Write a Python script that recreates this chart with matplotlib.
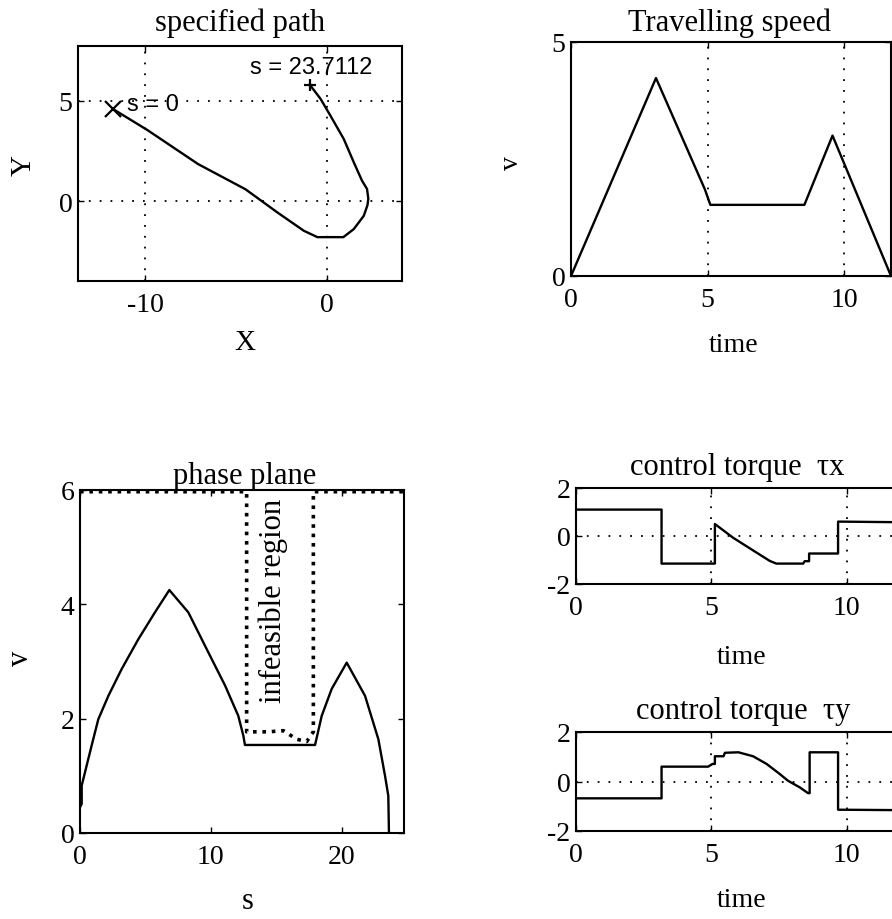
import matplotlib
matplotlib.use('Agg')
import matplotlib.pyplot as plt

# --- data ---
path_x = [-11.8, -9.9, -7.1, -4.5, -2.75, -1.3, -0.55, 0.88, 1.45, 2.0, 2.2,
          2.25, 2.18, 1.9, 1.45, 0.9, 0.16, -0.38, -0.97]
path_y = [4.6, 3.55, 1.85, 0.6, -0.55, -1.46, -1.78, -1.78, -1.38, -0.72, -0.2,
          0.12, 0.61, 1.03, 1.94, 3.1, 4.27, 5.1, 5.8]

speed_t = [0, 3.11, 4.9, 5.1, 8.54, 9.57, 11.71]
speed_v = [0, 4.23, 1.85, 1.52, 1.52, 3.0, 0]

phase_s = [0, 0.13, 0.13, 0.51, 0.89, 1.4, 2.17, 3.19, 4.46, 5.73, 6.83, 8.28,
           9.81, 11.09, 12.1, 12.49, 12.61, 17.97, 18.48, 19.24, 20.39, 21.79,
           22.81, 23.32, 23.57, 23.62]
phase_v = [0.45, 0.51, 0.83, 1.18, 1.53, 1.99, 2.4, 2.87, 3.39, 3.86, 4.25, 3.86,
           3.16, 2.58, 2.05, 1.7, 1.54, 1.54, 2.05, 2.52, 2.98, 2.4,
           1.64, 1.0, 0.65, 0]

limit_s = [0, 12.74, 12.74, 14.4, 15.55, 16.56, 17.33, 17.84, 17.84, 24.77]
limit_v = [5.97, 5.97, 1.77, 1.77, 1.79, 1.64, 1.6, 1.77, 5.97, 5.97]

tx_t = [0, 3.16, 3.16, 5.13, 5.13, 5.8, 6.54, 7.16, 7.4, 8.39, 8.45, 8.61,
        8.61, 9.68, 9.68, 12.3]
tx_v = [1.1, 1.1, -1.15, -1.15, 0.5, -0.07, -0.6, -1.04, -1.15, -1.15, -1.05,
        -1.05, -0.73, -0.73, 0.6, 0.57]

ty_t = [0, 3.16, 3.16, 4.88, 5.04, 5.13, 5.13, 5.45, 5.5, 6.0, 6.54, 7.04,
        7.53, 7.83, 8.27, 8.57, 8.63, 8.63, 9.68, 9.68, 12.3]
ty_v = [-0.68, -0.68, 0.6, 0.6, 0.71, 0.71, 1.02, 1.02, 1.16, 1.18, 1.02, 0.71,
        0.3, 0.03, -0.24, -0.47, -0.47, 1.18, 1.18, -1.14, -1.16]

W, H = 892, 920
plt.rcParams['font.family'] = ['Liberation Serif', 'DejaVu Serif']
plt.rcParams['axes.linewidth'] = 1.5
plt.rcParams['axes.unicode_minus'] = False

fig = plt.figure(figsize=(W / 100, H / 100), dpi=100)


def make_axes(l, t, r, b):
    ax = fig.add_axes([l / W, 1 - b / H, (r - l) / W, (b - t) / H])
    ax.box_px = (l, t, r, b)
    ax.tick_params(direction='in', length=4.5, width=1, labelsize=20,
                   top=True, right=True)
    ax.tick_params(axis='x', pad=8)
    ax.tick_params(axis='y', pad=4)
    return ax


def frac(ax, x, y):
    l, t, r, b = ax.box_px
    return (x - l) / (r - l), (b - y) / (b - t)


def labels(ax, title, tpos, xlabel, xpos, ylabel, ypos, tsize=22, lsize=21):
    fx, fy = frac(ax, *tpos)
    ax.set_title(title, x=fx, y=fy, va='center', pad=0, fontsize=tsize)
    ax.set_xlabel(xlabel, fontsize=lsize)
    ax.xaxis.set_label_coords(*frac(ax, *xpos))
    ax.xaxis.label.set_va('center')
    ax.set_ylabel(ylabel, fontsize=lsize)
    ax.yaxis.set_label_coords(*frac(ax, *ypos))
    ax.yaxis.label.set_va('center')


grid_style = dict(color='k', linestyle=(0, (1, 5)), linewidth=1.3)

# specified path
ax1 = make_axes(78, 47, 402, 282)
ax1.plot(path_x, path_y, color='k', lw=1.7)
ax1.plot(path_x[0], path_y[0], 'kx', ms=11, mew=1.6)
ax1.plot(path_x[-1], path_y[-1], 'k+', ms=9, mew=1.6)
ax1.text(-11.0, 4.84, 's = 0', family='Liberation Sans', fontsize=17, va='center')
ax1.text(-4.23, 6.68, 's = 23.7112', family='Liberation Sans', fontsize=17, va='center')
ax1.set_xlim(-13.7, 4.1)
ax1.set_ylim(-3.96, 7.72)
ax1.set_xticks([-10, 0])
ax1.set_yticks([0, 5])
ax1.grid(True, **grid_style)
labels(ax1, 'specified path', (240, 23), 'X', (245, 343), 'Y', (24, 165))

# travelling speed
ax2 = make_axes(571, 43, 891, 277)
ax2.plot(speed_t, speed_v, color='k', lw=1.7)
ax2.set_xlim(0, 11.71)
ax2.set_ylim(0, 5)
ax2.set_xticks([0, 5, 10])
ax2.set_yticks([0, 5])
ax2.grid(True, **grid_style)
labels(ax2, 'Travelling speed', (729, 23), 'time', (734, 345), 'v', (512, 163),
       lsize=20)

# phase plane
ax3 = make_axes(80, 491, 404, 834)
ax3.plot(phase_s, phase_v, color='k', lw=1.7)
ax3.plot(limit_s, limit_v, color='k', lw=2.6, linestyle=(0, (1, 1.6)))
ax3.text(14.8, 4.07, 'infeasible region', rotation=90, ha='center', va='center',
         fontsize=22)
ax3.set_xlim(0, 24.77)
ax3.set_ylim(0, 6)
ax3.set_xticks([0, 10, 20])
ax3.set_yticks([0, 2, 4, 6])
labels(ax3, 'phase plane', (245, 477), 's', (248, 902), 'v', (21, 658),
       lsize=22)

# control torques
ax4 = make_axes(576, 489, 909, 585)
ax4.plot(tx_t, tx_v, color='k', lw=1.7)
ax4.set_xlim(0, 12.3)
ax4.set_ylim(-2, 2)
ax4.set_xticks([0, 5, 10])
ax4.set_yticks([-2, 0, 2])
ax4.grid(True, **grid_style)
labels(ax4, 'control torque  τx', (737, 467), 'time', (742, 657), '', (540, 537),
       lsize=20)

ax5 = make_axes(576, 733, 909, 832)
ax5.plot(ty_t, ty_v, color='k', lw=1.7)
ax5.set_xlim(0, 12.3)
ax5.set_ylim(-2, 2)
ax5.set_xticks([0, 5, 10])
ax5.set_yticks([-2, 0, 2])
ax5.grid(True, **grid_style)
labels(ax5, 'control torque  τy', (743, 712), 'time', (742, 901), '', (540, 782),
       lsize=20)

fig.savefig('out.png', dpi=100)
